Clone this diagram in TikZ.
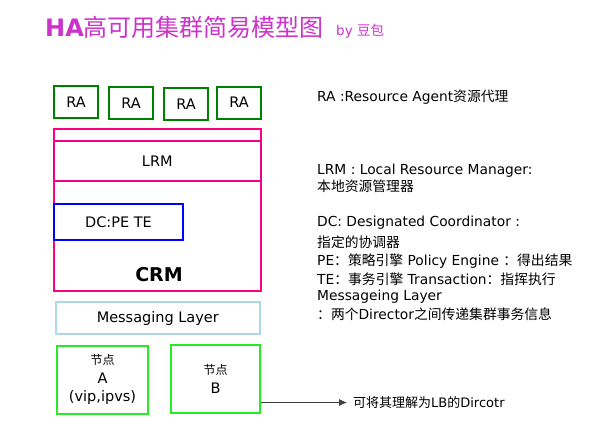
\documentclass[tikz,border=0pt]{standalone}
\usepackage{fontspec}
\setmainfont{DejaVu Sans}
\newfontfamily\cjk{Noto Sans CJK SC}
\usetikzlibrary{arrows.meta}
\definecolor{titlepink}{RGB}{204,51,204}
\definecolor{crmpink}{RGB}{255,0,128}
\definecolor{ragreen}{RGB}{0,128,0}
\definecolor{nodegreen}{RGB}{40,235,40}
\definecolor{msgblue}{RGB}{173,216,230}
\newcommand{\zh}[1]{{\cjk #1}}
\tikzset{
	box/.style={draw, line width=2pt, inner sep=0pt, font=\fontsize{14.5}{18}\selectfont},
	rabox/.style={box, draw=ragreen, minimum width=44pt, minimum height=32pt},
	hostbox/.style={box, draw=nodegreen, align=center, font=\fontsize{14.5}{18.5}\selectfont},
	note/.style={anchor=west, inner sep=0pt, font=\fontsize{13.8}{18}\selectfont}
}

\begin{document}
\begin{tikzpicture}[x=1pt, y=-1pt]
		%%%%% START %%%%%
		\useasboundingbox (0, 0) rectangle (602, 432);
		
		% title
		\node[anchor=west, inner sep=0pt, text=titlepink] (title) at (45, 27)
			{\fontsize{24}{28}\selectfont\textbf{HA}\zh{高可用集群简易模型图}};
		\node[anchor=west, inner sep=0pt, text=titlepink, font=\fontsize{13.5}{16}\selectfont] (by) at (336, 31) {by \zh{豆包}};
		
		% resource agents
		\node[rabox] (ra1) at (76, 102) {RA};
		\node[rabox] (ra2) at (131, 103) {RA};
		\node[rabox] (ra3) at (186, 104) {RA};
		\node[rabox] (ra4) at (239, 102.5) {RA};
		
		% crm stack
		\node[box, draw=crmpink, minimum width=206.5pt, minimum height=162pt] (crm) at (157.3, 209.5) {};
		\node[box, draw=magenta, minimum width=206.5pt, minimum height=39.5pt] (lrm) at (157.3, 160.8) {LRM};
		\node[box, draw=blue, minimum width=129pt, minimum height=35.5pt] (dc) at (118.5, 221.8) {DC:PE TE};
		\node[inner sep=0pt, font=\fontsize{19}{24}\selectfont\bfseries] (crmlabel) at (159, 275) {CRM};
		
		\node[box, draw=msgblue, minimum width=204pt, minimum height=32.5pt] (msg) at (157.8, 318) {Messaging Layer};
		
		% hosts
		\node[hostbox, minimum width=91.5pt, minimum height=68pt] (nodea) at (102.5, 379.5)
			{{\fontsize{12}{14}\selectfont\zh{节点}}\\A\\(vip,ipvs)};
		\node[hostbox, minimum width=89pt, minimum height=68pt] (nodeb) at (215.5, 378.8)
			{{\fontsize{12}{14}\selectfont\zh{节点}}\\B};
		
		% notes
		\node[note] (ranote) at (317, 97) {RA :Resource Agent\zh{资源代理}};
		\node[note] (lrmnote) at (317, 171) {LRM : Local Resource Manager:};
		\node[note] (lrmnote2) at (317, 186) {\zh{本地资源管理器}};
		\node[note] (dcnote) at (317, 223) {DC: Designated Coordinator :};
		\node[note] (dcnote2) at (317, 242) {\zh{指定的协调器}};
		\node[note] (penote) at (317, 261) {PE\zh{：策略引擎} Policy Engine \zh{：得出结果}};
		\node[note] (tenote) at (317, 279) {TE\zh{：事务引擎} Transaction\zh{：指挥执行}};
		\node[note] (msgnote) at (317, 297) {Messageing Layer};
		\node[note] (msgnote2) at (317, 314) {\zh{：两个}Director\zh{之间传递集群事务信息}};
		
		\node[note, font=\fontsize{13}{16}\selectfont] (lbnote) at (353, 402.5) {\zh{可将其理解为}LB\zh{的}Dircotr};
		\draw[black!75, line width=0.8pt, -{Latex[length=8pt, width=7pt]}] (nodeb.east |- lbnote.west) -- ([xshift=-6pt]lbnote.west);
		%%%%% END %%%%%
	\end{tikzpicture}
\end{document}
